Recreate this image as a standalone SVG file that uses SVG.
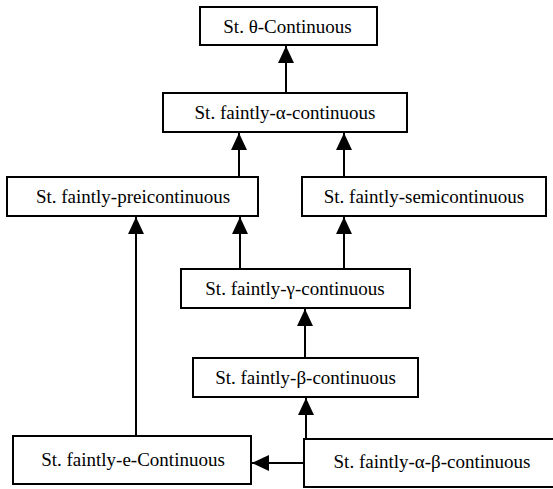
<svg xmlns="http://www.w3.org/2000/svg" width="553" height="489" viewBox="0 0 553 489">
<style>
.box{fill:#fff;stroke:#000;stroke-width:2}
.lbl{font-family:"Liberation Serif","Times New Roman",serif;font-size:19px;fill:#000;text-anchor:middle}
.con{stroke:#000;stroke-width:2;fill:none;marker-end:url(#ah)}
</style>
<defs>
<marker id="ah" markerUnits="userSpaceOnUse" markerWidth="18" markerHeight="18" viewBox="0 0 18 16" refX="17" refY="8" orient="auto">
<path d="M0,0 L17,8 L0,16 Z" fill="#000"/>
</marker>
</defs>
<rect width="553" height="489" fill="#fff"/>
<g id="connectors">
<path class="con" d="M286,92 V46"/>
<path class="con" d="M239,177 V133"/>
<path class="con" d="M344,177 V133"/>
<path class="con" d="M240,269 V217"/>
<path class="con" d="M344,269 V217"/>
<path class="con" d="M305,358 V309"/>
<path class="con" d="M306,439 V398"/>
<path class="con" d="M136,436 V217"/>
<path class="con" d="M304,463 H252"/>
</g>
<g id="n1"><rect class="box" x="200" y="7" width="177" height="38"/><text class="lbl" x="287.5" y="33">St. θ-Continuous</text></g>
<g id="n2"><rect class="box" x="163" y="93" width="244" height="39"/><text class="lbl" x="285" y="119">St. faintly-α-continuous</text></g>
<g id="n3"><rect class="box" x="7" y="177" width="251" height="39"/><text class="lbl" x="133" y="203">St. faintly-preicontinuous</text></g>
<g id="n4"><rect class="box" x="302" y="177" width="244" height="39"/><text class="lbl" x="424" y="203">St. faintly-semicontinuous</text></g>
<g id="n5"><rect class="box" x="181" y="269" width="229" height="39"/><text class="lbl" x="295" y="295">St. faintly-γ-continuous</text></g>
<g id="n6"><rect class="box" x="193" y="358" width="225" height="39"/><text class="lbl" x="305.5" y="384">St. faintly-β-continuous</text></g>
<g id="n7"><rect class="box" x="13" y="436" width="238" height="48"/><text class="lbl" x="133" y="466">St. faintly-e-Continuous</text></g>
<g id="n8"><rect class="box" x="304" y="439" width="252" height="48"/><text class="lbl" x="432" y="468">St. faintly-α-β-continuous</text></g>
</svg>
